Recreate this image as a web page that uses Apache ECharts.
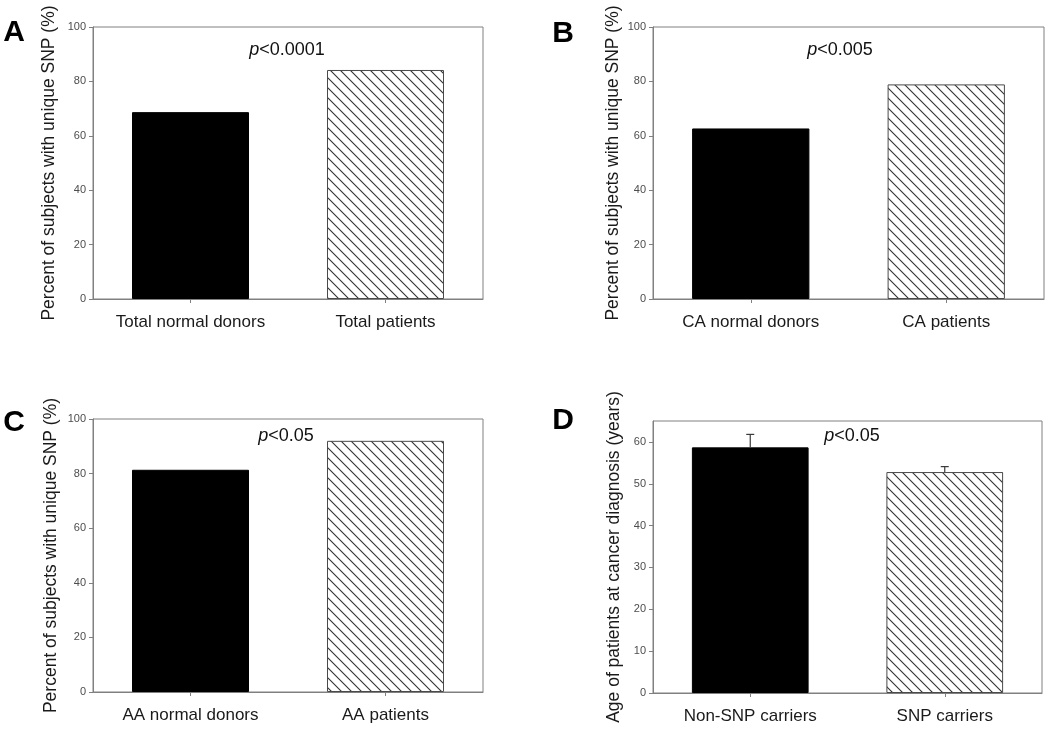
<!DOCTYPE html>
<html>
<head>
<meta charset="utf-8">
<script src="https://cdn.jsdelivr.net/npm/echarts@6/dist/echarts.min.js"></script>
<style>
html,body{margin:0;padding:0;background:#fff;}
#chart{width:1050px;height:730px;}
</style>
</head>
<body>
<div id="chart"></div>
<script>
// ---- data ----
const catsA = ['Total normal donors', 'Total patients'];
const valsA = [68.7, 84.2];
const catsB = ['CA normal donors', 'CA patients'];
const valsB = [62.7, 78.9];
const catsC = ['AA normal donors', 'AA patients'];
const valsC = [81.4, 92.0];
const catsD = ['Non-SNP carriers', 'SNP carriers'];
const valsD = [58.7, 52.8];
const errD = [3.1, 1.3];
const ticksPct = [0, 20, 40, 60, 80, 100];
const ticksAge = [0, 10, 20, 30, 40, 50, 60];
const titlePct = 'Percent of subjects with unique SNP (%)';
const titleAge = 'Age of patients at cancer diagnosis (years)';
const pTexts = ['<0.0001', '<0.005', '<0.05', '<0.05'];
const panelLetters = ['A', 'B', 'C', 'D'];

// ---- styles ----
const FONT = 'Arial, "Liberation Sans", Helvetica, sans-serif';
const AXIS_COLOR = '#808080';

function hatchPattern() {
  const s = 10;
  const c = document.createElement('canvas');
  c.width = s; c.height = s;
  const ctx = c.getContext('2d');
  ctx.fillStyle = '#ffffff';
  ctx.fillRect(0, 0, s, s);
  ctx.strokeStyle = '#333333';
  ctx.lineWidth = 1.1;
  ctx.beginPath();
  ctx.moveTo(-1, -1); ctx.lineTo(s + 1, s + 1);
  ctx.moveTo(-1, s - 1); ctx.lineTo(1, s + 1);
  ctx.moveTo(s - 1, -1); ctx.lineTo(s + 1, 1);
  ctx.stroke();
  return c;
}
const hatch = { image: hatchPattern(), repeat: 'repeat' };

const grids = [
  { left: 93, top: 27, width: 390, height: 272 },
  { left: 653, top: 27, width: 391, height: 272 },
  { left: 93, top: 419, width: 390, height: 273 },
  { left: 653, top: 421, width: 389, height: 272 }
].map(g => Object.assign(g, { show: true, borderColor: AXIS_COLOR, borderWidth: 1, containLabel: false }));

const allCats = [catsA, catsB, catsC, catsD];
const allVals = [valsA, valsB, valsC, valsD];
const yMax = [100, 100, 100, 65];
const yTicks = [ticksPct, ticksPct, ticksPct, ticksAge];
const yTitles = [titlePct, titlePct, titlePct, titleAge];
const nameGaps = [35, 31, 33, 30];

const xAxes = allCats.map((cats, i) => ({
  type: 'category', gridIndex: i, data: cats,
  axisLine: { lineStyle: { color: AXIS_COLOR, width: 1 } },
  axisTick: { show: true, alignWithLabel: true, length: 4, lineStyle: { color: AXIS_COLOR } },
  axisLabel: { color: '#1a1a1a', fontSize: 17, fontFamily: FONT, margin: 15 }
}));

const yAxes = yTicks.map((ticks, i) => ({
  type: 'value', gridIndex: i, min: 0, max: yMax[i],
  interval: ticks[1] - ticks[0],
  name: yTitles[i], nameLocation: 'middle', nameGap: nameGaps[i],
  nameTextStyle: { color: '#1a1a1a', fontSize: 17.5, fontFamily: FONT },
  splitLine: { show: false },
  axisLine: { show: true, lineStyle: { color: AXIS_COLOR, width: 1 } },
  axisTick: { show: true, length: 4, lineStyle: { color: AXIS_COLOR }, customValues: ticks },
  axisLabel: { color: '#4d4d4d', fontSize: 11, fontFamily: FONT, margin: 7, customValues: ticks }
}));

const series = allVals.map((vals, i) => ({
  type: 'bar', xAxisIndex: i, yAxisIndex: i, barWidth: '60%',
  data: vals.map((v, j) => ({
    value: v,
    itemStyle: j === 0
      ? { color: '#000000', borderColor: '#000000', borderWidth: 1 }
      : { color: hatch, borderColor: '#4a4a4a', borderWidth: 1 }
  })),
  z: 2
}));

series.push({
  type: 'custom', xAxisIndex: 3, yAxisIndex: 3, z: 3,
  data: valsD.map((v, j) => [j, v, errD[j]]),
  renderItem: function (params, api) {
    const x = api.value(0), v = api.value(1), e = api.value(2);
    const p0 = api.coord([x, v]);
    const p1 = api.coord([x, v + e]);
    const cap = 4;
    return {
      type: 'group',
      children: [
        { type: 'line', shape: { x1: p0[0], y1: p0[1], x2: p1[0], y2: p1[1] }, style: { stroke: '#3a3a3a', lineWidth: 1.2 } },
        { type: 'line', shape: { x1: p1[0] - cap, y1: p1[1], x2: p1[0] + cap, y2: p1[1] }, style: { stroke: '#3a3a3a', lineWidth: 1.2 } }
      ]
    };
  }
});

const pPos = [[287, 50], [840, 50], [286, 436], [852, 436]];
const letterPos = [[14, 33], [563, 34], [14, 423], [563, 421]];

const graphics = [];
pTexts.forEach((t, i) => {
  graphics.push({
    type: 'text', x: pPos[i][0], y: pPos[i][1], z: 10,
    style: {
      text: '{i|p}' + t, fill: '#111', fontSize: 18, fontFamily: FONT,
      align: 'center', verticalAlign: 'middle',
      rich: { i: { fontStyle: 'italic', fontSize: 18, fontFamily: FONT, fill: '#111' } }
    }
  });
});
panelLetters.forEach((t, i) => {
  graphics.push({
    type: 'text', x: letterPos[i][0], y: letterPos[i][1], z: 10,
    style: { text: t, fill: '#000', fontSize: 30, fontWeight: 'bold', fontFamily: FONT, align: 'center', verticalAlign: 'middle' }
  });
});

const chart = echarts.init(document.getElementById('chart'), null, { renderer: 'canvas' });
chart.setOption({
  backgroundColor: '#ffffff',
  animation: false,
  grid: grids,
  xAxis: xAxes,
  yAxis: yAxes,
  series: series,
  graphic: graphics
});
</script>
</body>
</html>
